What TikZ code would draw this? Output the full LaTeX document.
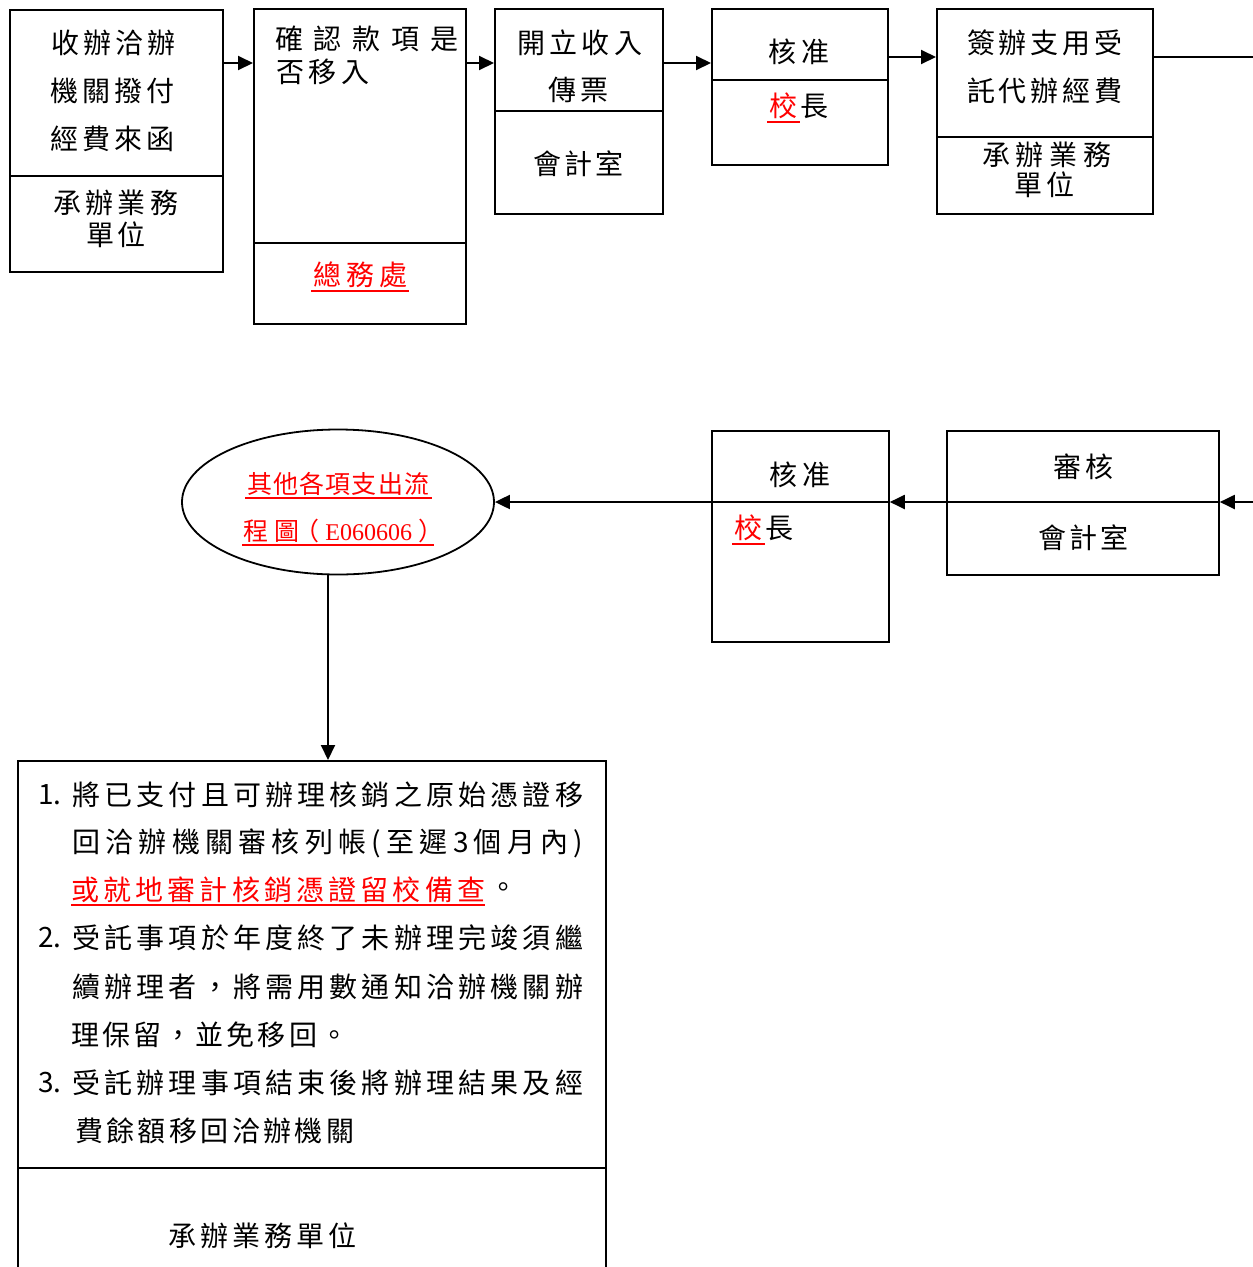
\documentclass[tikz,border=0pt]{standalone}
\usepackage{fontspec}
\setmainfont{Noto Sans CJK TC}
\newfontfamily\serifdig{Liberation Serif}
\usetikzlibrary{arrows.meta,shapes.geometric}
\makeatletter
\def\sp@end{\sp@end}
\newcommand\spreadto[2]{\hbox to #1{\sp@first#2\sp@end}}
\def\sp@first#1{\ifx#1\sp@end\else#1\expandafter\sp@more\fi}
\def\sp@more#1{\ifx#1\sp@end\else\hfil#1\expandafter\sp@more\fi}
\makeatother
\tikzset{
  box/.style={draw, line width=1.8pt, inner sep=0pt, anchor=north west},
  txt/.style={inner sep=0pt, anchor=west, font=\fontsize{28}{32}\selectfont},
  rtxt/.style={txt, text=red},
  etxt/.style={inner sep=0pt, anchor=west, text=red, font=\fontsize{25}{29}\selectfont},
  arr/.style={line width=2pt, -{Triangle[length=15pt,width=14pt]}},
  con/.style={line width=1.8pt},
  ul/.style={red, line width=2pt}
}
\begin{document}
\begin{tikzpicture}[x=1pt,y=-1pt]
\useasboundingbox (0,0) rectangle (1253,1267);
% ---------- boxes ----------
\node[box, minimum width=213pt, minimum height=262pt] (b1) at (9,9) {};
\node[box, minimum width=212pt, minimum height=315pt] (b2) at (253,8) {};
\node[box, minimum width=168pt, minimum height=205pt] (b3) at (494,8) {};
\node[box, minimum width=176pt, minimum height=156pt] (b4) at (711,8) {};
\node[box, minimum width=216pt, minimum height=205pt] (b5) at (936,8) {};
\node[box, minimum width=272pt, minimum height=144pt] (b6) at (946,430) {};
\node[box, minimum width=177pt, minimum height=211pt] (b7) at (711,430) {};
\node[box, minimum width=588pt, minimum height=512pt] (b8) at (17,760) {};
\node[draw, ellipse, line width=1.8pt, inner sep=0pt, minimum width=312pt, minimum height=145pt] (e) at (338,502) {};
% ---------- dividers ----------
\draw[con] (b1.west |- 0,176) -- (b1.east |- 0,176);
\draw[con] (b2.west |- 0,243) -- (b2.east |- 0,243);
\draw[con] (b3.west |- 0,111) -- (b3.east |- 0,111);
\draw[con] (b4.west |- 0,80) -- (b4.east |- 0,80);
\draw[con] (b5.west |- 0,137) -- (b5.east |- 0,137);
\draw[con] (b6.west |- 0,502) -- (b6.east |- 0,502);
\draw[con] (b7.west |- 0,502) -- (b7.east |- 0,502);
\draw[con] (b8.west |- 0,1168) -- (b8.east |- 0,1168);
% ---------- connectors ----------
\coordinate (r1) at (1253,57);
\coordinate (r2) at (1253,502);
\coordinate (ax) at (328,0);
\draw[arr] (b1.east |- 0,63) -- (b2.west |- 0,63);
\draw[arr] (b2.east |- 0,63) -- (b3.west |- 0,63);
\draw[arr] (b3.east |- 0,63) -- (b4.west |- 0,63);
\draw[arr] (b4.east |- r1) -- (b5.west |- r1);
\draw[con] (b5.east |- r1) -- (r1);
\draw[arr] (r2) -- (b6.east |- r2);
\draw[arr] (b6.west |- r2) -- (b7.east |- r2);
\draw[arr] (b7.west |- r2) -- (e.east);
\draw[arr] (e.south -| ax) -- (b8.north -| ax);
% ---------- texts row 1 ----------
\node[txt] (t1a) at (51,43) {\spreadto{124pt}{收辦洽辦}};
\node[txt] (t1b) at (50,91) {\spreadto{124pt}{機關撥付}};
\node[txt] (t1c) at (50,139) {\spreadto{124pt}{經費來函}};
\node[txt] (t1d) at (53,203) {\spreadto{125pt}{承辦業務}};
\node[txt] (t1e) at (86,235) {\spreadto{59pt}{單位}};
\node[txt] (t2a) at (275,39) {\spreadto{183pt}{確認款項是}};
\node[txt] (t2b) at (276,72) {\spreadto{93pt}{否移入}};
\node[rtxt] (t2c) at (313,275) {\spreadto{94pt}{總務處}};
\draw[ul] ([shift={(-2pt,-3pt)}]t2c.south west) -- ([shift={(2pt,-3pt)}]t2c.south east);
\node[txt] (t3a) at (517,43) {\spreadto{125pt}{開立收入}};
\node[txt] (t3b) at (548,90) {\spreadto{60pt}{傳票}};
\node[txt] (t3c) at (533,164) {\spreadto{90pt}{會計室}};
\node[txt] (t4a) at (768,52) {\spreadto{61pt}{核准}};
\node[rtxt] (t4b) at (767,106) {\hbox to 33pt{\hss 校\hss}};
\node[txt, anchor=west] (t4c) at ([xshift=0pt]t4b.east) {長};
\draw[ul] ([yshift=-3pt]t4b.south west) -- ([yshift=-3pt]t4b.south east);
\node[txt] (t5a) at (967,43) {\spreadto{155pt}{簽辦支用受}};
\node[txt] (t5b) at (967,91) {\spreadto{155pt}{託代辦經費}};
\node[txt] (t5c) at (982,155) {\spreadto{129pt}{承辦業務}};
\node[txt] (t5d) at (1014,185) {\spreadto{60pt}{單位}};
% ---------- texts row 2 ----------
\node[etxt] (e1) at (247,484) {\spreadto{182pt}{其他各項支出流}};
\draw[ul] ([shift={(-2pt,-2pt)}]e1.south west) -- ([shift={(3pt,-2pt)}]e1.south east);
\node[etxt] (e2) at (243,531) {\hbox to 189pt{程\hfil 圖\hfil\hbox to 14pt{\hss （}\hfil{\serifdig\fontsize{24}{28}\selectfont E060606}\hfil\hbox to 14pt{）\hss}}};
\draw[ul] ([shift={(-1pt,-2pt)}]e2.south west) -- ([shift={(2pt,-2pt)}]e2.south east);
\node[txt] (t7a) at (769,475) {\spreadto{61pt}{核准}};
\node[rtxt] (t7b) at (732,528) {\hbox to 33pt{\hss 校\hss}};
\node[txt, anchor=west] (t7c) at ([xshift=0pt]t7b.east) {長};
\draw[ul] ([yshift=-3pt]t7b.south west) -- ([yshift=-3pt]t7b.south east);
\node[txt] (t6a) at (1053,467) {\spreadto{60pt}{審核}};
\node[txt] (t6b) at (1038,538) {\spreadto{90pt}{會計室}};
% ---------- texts bottom box ----------
\node[txt] (n1) at (38,795) {1.};
\node[txt] (l1) at (72,795) {\spreadto{511pt}{將已支付且可辦理核銷之原始憑證移}};
\node[txt] (l2) at (72,843) {\spreadto{511pt}{回洽辦機關審核列帳(至遲3個月內)}};
\node[rtxt] (l3) at (71,890) {\spreadto{414pt}{或就地審計核銷憑證留校備查}};
\node[txt] (l3b) at (489,890) {。};
\draw[ul] ([yshift=-2pt]l3.south west) -- ([yshift=-2pt]l3.south east);
\node[txt] (n2) at (38,938) {2.};
\node[txt] (l4) at (72,938) {\spreadto{511pt}{受託事項於年度終了未辦理完竣須繼}};
\node[txt] (l5) at (72,987) {\spreadto{511pt}{續辦理者，將需用數通知洽辦機關辦}};
\node[txt] (l6) at (71,1035) {\spreadto{277pt}{理保留，並免移回。}};
\node[txt] (n3) at (38,1083) {3.};
\node[txt] (l7) at (72,1083) {\spreadto{511pt}{受託辦理事項結束後將辦理結果及經}};
\node[txt] (l8) at (75,1131) {\spreadto{279pt}{費餘額移回洽辦機關}};
\node[txt] (l9) at (168,1236) {\spreadto{188pt}{承辦業務單位}};
\end{tikzpicture}
\end{document}
